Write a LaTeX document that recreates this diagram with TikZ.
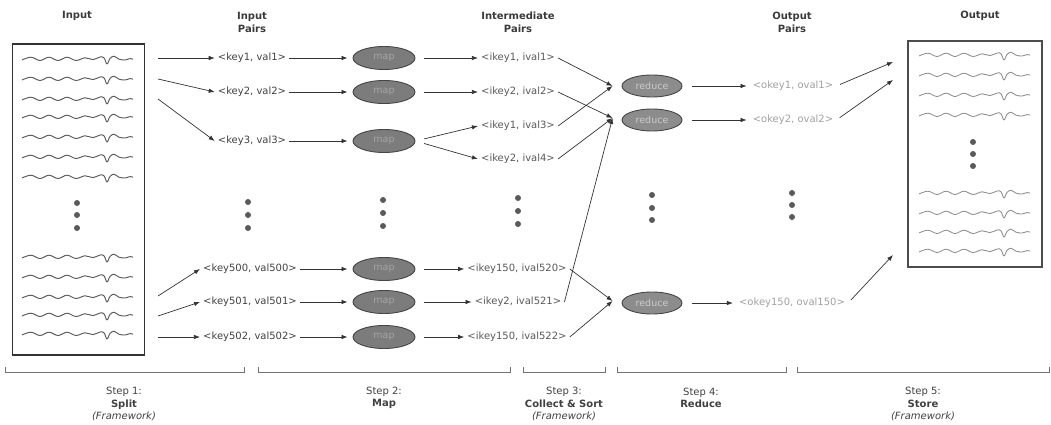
\documentclass[tikz,border=0pt]{standalone}
\usepackage{fontspec}
\setmainfont{DejaVu Sans}
\usetikzlibrary{arrows.meta,shapes.geometric,calc}

\definecolor{ink}{HTML}{333333}
\definecolor{headcol}{HTML}{3A3A3A}
\definecolor{inpair}{HTML}{404040}
\definecolor{midpair}{HTML}{585858}
\definecolor{outpair}{HTML}{A0A0A0}
\definecolor{ovalfill}{HTML}{7C7C7C}
\definecolor{ovaldraw}{HTML}{454545}
\definecolor{dotcol}{HTML}{5A5A5A}
\definecolor{wavein}{HTML}{5A5A5A}
\definecolor{waveout}{HTML}{8C8C8C}

\tikzset{
  wave/.pic={
    \draw[pic actions, line join=round] plot[smooth, tension=0.6] coordinates {
      (0,1) (9,-1.8) (18,1.5) (27,-1.8) (36,1.5) (45,-1.8) (54,1.5)
      (63,-1.2) (71,0.6) (78,-2) (82,-1.2) (85,5) (88,-0.5) (92,-2.8)
      (97,0.2) (103,1) (108,-0.4) (111,0.2)};
  },
  waveA/.style={draw=wavein, line width=0.95pt},
  waveB/.style={draw=waveout, line width=0.85pt},
  heading/.style={font=\fontsize{10}{13}\selectfont\bfseries, text=headcol, align=center},
  pairtxt/.style={font=\fontsize{10}{12}\selectfont, text=#1, inner sep=3pt},
  mapnode/.style={ellipse, draw=ovaldraw, line width=0.9pt, fill=ovalfill,
    minimum width=62, minimum height=23, inner sep=0pt,
    font=\fontsize{9.5}{10}\selectfont, text=black!35},
  rednode/.style={mapnode, minimum width=60, minimum height=22, fill=black!45, text=black!20},
  link/.style={draw=ink, line width=0.7pt, -{Latex[length=6pt,width=4.5pt]}},
  databox/.style={draw=#1, line width=1.3pt, inner sep=0pt},
  steptxt/.style={font=\fontsize{10}{12.5}\selectfont, text=black!75, align=center},
  bracket/.style={draw=black!55, line width=0.6pt},
  vdot/.style={fill=dotcol}
}

\begin{document}
\begin{tikzpicture}[x=1pt, y=-1pt]
\useasboundingbox (0,0) rectangle (1051,425);

% column headings
\node[heading] (hin)   at (77,16)     {Input};
\node[heading] (hinp)  at (252,22.5)  {Input\\Pairs};
\node[heading] (hmid)  at (518,22.5)  {Intermediate\\Pairs};
\node[heading] (houtp) at (792,22.5)  {Output\\Pairs};
\node[heading] (hout)  at (980,16)    {Output};

% input data
\node[databox=black!80, minimum width=132, minimum height=311] (inbox) at (78.5,199.5) {};
\foreach \y in {59,79,99,117,137,157,177,257,277,297,315,334}
  \pic[waveA] at (22,\y) {wave};
\foreach \y in {203,215,228} \fill[vdot] (77,\y) circle (3);

% output data
\node[databox=black!70, minimum width=134, minimum height=226] (outbox) at (975,154) {};
\foreach \y in {55,75,95,115,193,213,232,251}
  \pic[waveB] at (919,\y) {wave};
\foreach \y in {142,154,166} \fill[vdot] (973,\y) circle (3);

% input pairs
\node[pairtxt=inpair] (p1)   at (252,58)  {<key1, val1>};
\node[pairtxt=inpair] (p2)   at (252,92)  {<key2, val2>};
\node[pairtxt=inpair] (p3)   at (252,141) {<key3, val3>};
\node[pairtxt=inpair] (p500) at (250,269) {<key500, val500>};
\node[pairtxt=inpair] (p501) at (250,302) {<key501, val501>};
\node[pairtxt=inpair] (p502) at (250,337) {<key502, val502>};
\foreach \y in {202,215,228} \fill[vdot] (248,\y) circle (3);

% map tasks
\node[mapnode] (m1)   at (384,58)  {map};
\node[mapnode] (m2)   at (384,92)  {map};
\node[mapnode] (m3)   at (384,141) {map};
\node[mapnode] (m500) at (384,269) {map};
\node[mapnode] (m501) at (384,302) {map};
\node[mapnode] (m502) at (384,337) {map};
\foreach \y in {200,213,226} \fill[vdot] (383,\y) circle (3);

% intermediate pairs
\node[pairtxt=midpair] (i1)   at (518,58)  {<ikey1, ival1>};
\node[pairtxt=midpair] (i2)   at (518,92)  {<ikey2, ival2>};
\node[pairtxt=midpair] (i3)   at (518,126) {<ikey1, ival3>};
\node[pairtxt=midpair] (i4)   at (518,159) {<ikey2, ival4>};
\node[pairtxt=midpair] (i520) at (517,269) {<ikey150, ival520>};
\node[pairtxt=midpair] (i521) at (518,302) {<ikey2, ival521>};
\node[pairtxt=midpair] (i522) at (517,337) {<ikey150, ival522>};
\foreach \y in {198,211,224} \fill[vdot] (518,\y) circle (3);

% reduce tasks
\node[rednode] (r1) at (652,86)  {reduce};
\node[rednode] (r2) at (652,120) {reduce};
\node[rednode] (r3) at (652,303) {reduce};
\foreach \y in {195,208,220} \fill[vdot] (652,\y) circle (3);

% output pairs
\node[pairtxt=outpair] (o1)   at (793,86)  {<okey1, oval1>};
\node[pairtxt=outpair] (o2)   at (793,120) {<okey2, oval2>};
\node[pairtxt=outpair] (o150) at (792,303) {<okey150, oval150>};
\foreach \y in {193,205,217} \fill[vdot] (792,\y) circle (3);

% free ends of the connectors
\coordinate (s1)   at (158,58);
\coordinate (s2)   at (158,79);
\coordinate (s3)   at (158,99);
\coordinate (s500) at (158,296);
\coordinate (s501) at (158,316);
\coordinate (s502) at (158,337);
\coordinate (c1) at ($(r1.west)+(-9,0)$);
\coordinate (c2) at ($(r2.west)+(-9,-2)$);
\coordinate (c3) at ($(r3.west)+(-9,-2)$);
\coordinate (e1) at (893,62);
\coordinate (e2) at (893,80);
\coordinate (e3) at (893,255);

% split
\draw[link] (s1) -- (p1.west);
\draw[link] (s2) -- (p2.west);
\draw[link] (s3) -- (p3.west);
\draw[link] (s500) -- (p500.west);
\draw[link] (s501) -- (p501.west);
\draw[link] (s502) -- (p502.west);

% map
\foreach \k in {1,2,3,500,501,502}
  \draw[link, shorten >=5pt] (p\k.east) -- (m\k.west);
\draw[link, shorten <=9pt] (m1.east) -- (i1.west);
\draw[link, shorten <=9pt] (m2.east) -- (i2.west);
\draw[link, shorten <=9pt] (m3.east) -- (i3.west);
\draw[link, shorten <=9pt] (m3.east) -- (i4.west);
\draw[link, shorten <=9pt] (m500.east) -- (i520.west);
\draw[link, shorten <=9pt] (m501.east) -- (i521.west);
\draw[link, shorten <=9pt] (m502.east) -- (i522.west);

% collect & sort
\draw[link] (i1.east) -- (c1);
\draw[link] (i3.east) -- (c1);
\draw[link] (i2.east) -- (c2);
\draw[link] (i4.east) -- (c2);
\draw[link] (i521.east) -- (c2);
\draw[link] (i520.east) -- (c3);
\draw[link] (i522.east) -- (c3);

% reduce
\draw[link, shorten <=10pt, shorten >=3pt] (r1.east) -- (o1.west);
\draw[link, shorten <=10pt, shorten >=3pt] (r2.east) -- (o2.west);
\draw[link, shorten <=10pt, shorten >=3pt] (r3.east) -- (o150.west);

% store
\draw[link, shorten <=4pt] (o1.east) -- (e1);
\draw[link, shorten <=4pt] (o2.east) -- (e2);
\draw[link, shorten <=4pt] (o150.east) -- (e3);

% step brackets
\draw[bracket] (5,367)   -- (5,372)   -- (244,372) -- (244,367);
\draw[bracket] (258,367) -- (258,372) -- (510,372) -- (510,367);
\draw[bracket] (523,367) -- (523,372) -- (605,372) -- (605,367);
\draw[bracket] (617,367) -- (617,372) -- (786,372) -- (786,367);
\draw[bracket] (797,367) -- (797,372) -- (1049,372) -- (1049,367);

% step labels
\node[steptxt] (st1) at (124,404) {Step 1:\\\textbf{Split}\\\textit{(Framework)}};
\node[steptxt] (st2) at (384,398) {Step 2:\\\textbf{Map}};
\node[steptxt] (st3) at (564,404) {Step 3:\\\textbf{Collect \& Sort}\\\textit{(Framework)}};
\node[steptxt] (st4) at (701,398) {Step 4:\\\textbf{Reduce}};
\node[steptxt] (st5) at (923,404) {Step 5:\\\textbf{Store}\\\textit{(Framework)}};
\end{tikzpicture}
\end{document}
